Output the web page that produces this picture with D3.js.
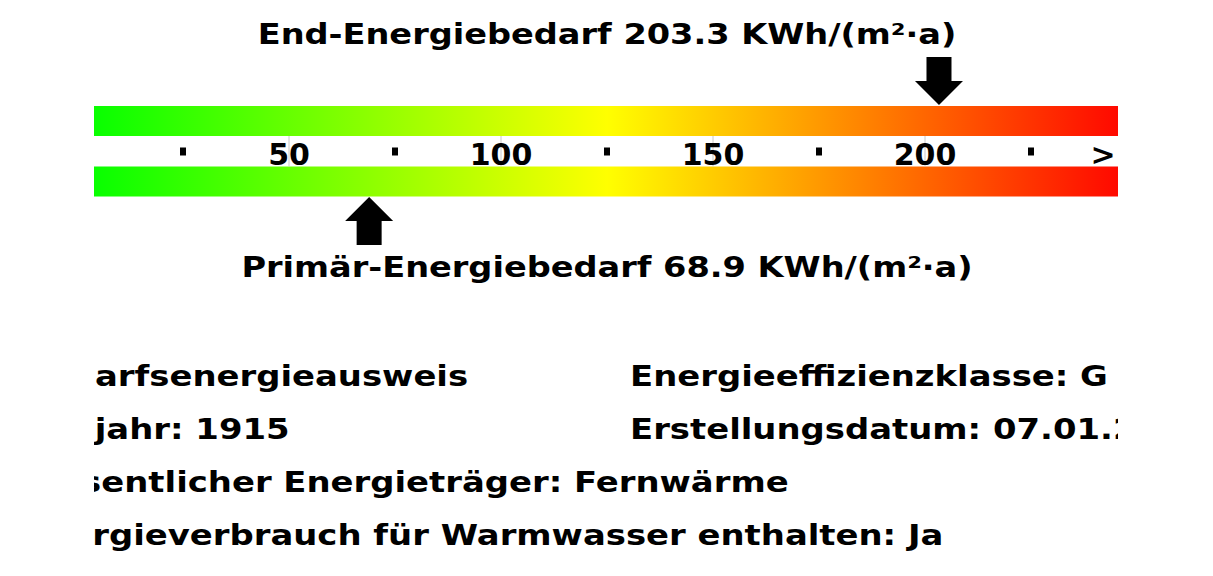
<!DOCTYPE html>
<html>
<head>
<meta charset="utf-8">
<script src="https://cdn.jsdelivr.net/npm/d3@7"></script>
<style>
  body { margin: 0; background: #fff; }
  text { font-family: "DejaVu Sans", sans-serif; font-weight: bold; fill: #000; }
</style>
</head>
<body>
<svg id="chart"></svg>
<script>
// values of the energy scale
const scaleDomain = [0, 250]
const tickValues = [50, 100, 150, 200]
const dotValues = [25, 75, 125, 175, 225]
const overflowLabel = { value: 242, text: '>' }
const endEnergy = 203.3
const primaryEnergy = 68.9
const unit = 'KWh/(m²·a)'

// info lines under the scale
const leftInfo = [
    'Bedarfsenergieausweis',
    'Baujahr: 1915',
    'Wesentlicher Energieträger: Fernwärme',
    'Energieverbrauch für Warmwasser enthalten: Ja'
]
const rightInfo = [
    'Energieeffizienzklasse: G',
    'Erstellungsdatum: 07.01.2020'
]

const WIDTH = 1213
const HEIGHT = 576
const VIEW = { left: 94, right: 1118 }
const BAR_H = 30
const TOP_BAR_Y = 106
const BOTTOM_BAR_Y = 166.5
// the labels are drawn a bit wider than the font
const TITLE_STRETCH = 1.2
const INFO_STRETCH = 1.21

const svg = d3.select('#chart')
    .attr('width', WIDTH)
    .attr('height', HEIGHT)

const x = d3.scaleLinear().domain(scaleDomain).range([77, 1137])

const defs = svg.append('defs')
const grad = defs.append('linearGradient')
    .attr('id', 'energyGrad')
    .attr('gradientUnits', 'userSpaceOnUse')
    .attr('x1', x(scaleDomain[0])).attr('x2', x(scaleDomain[1]))
    .attr('y1', 0).attr('y2', 0)
grad.selectAll('stop')
    .data([[0, '#00ff00'], [0.5, '#ffff00'], [1, '#ff0000']])
    .enter().append('stop')
    .attr('offset', d => d[0])
    .attr('stop-color', d => d[1])

defs.append('clipPath').attr('id', 'view')
    .append('rect')
    .attr('x', VIEW.left).attr('y', 0)
    .attr('width', VIEW.right - VIEW.left).attr('height', HEIGHT)

const g = svg.append('g').attr('clip-path', 'url(#view)')

// the two colour bars
g.selectAll('.bar')
    .data([TOP_BAR_Y, BOTTOM_BAR_Y])
    .enter().append('rect')
    .classed('bar', true)
    .attr('x', x(scaleDomain[0]))
    .attr('width', x(scaleDomain[1]) - x(scaleDomain[0]))
    .attr('y', d => d)
    .attr('height', BAR_H)
    .attr('fill', 'url(#energyGrad)')

// thin tick lines
g.selectAll('.tickline')
    .data(tickValues)
    .enter().append('line')
    .attr('x1', d => x(d)).attr('x2', d => x(d))
    .attr('y1', TOP_BAR_Y + BAR_H).attr('y2', BOTTOM_BAR_Y)
    .attr('stroke', '#c8c8c8')
    .attr('stroke-width', 1)

g.selectAll('.ticklabel')
    .data(tickValues)
    .enter().append('text')
    .attr('x', d => x(d))
    .attr('y', 165)
    .attr('text-anchor', 'middle')
    .style('font-size', '30px')
    .text(d => d)

g.selectAll('.dot')
    .data(dotValues)
    .enter().append('rect')
    .attr('x', d => x(d) - 3)
    .attr('y', 147.5)
    .attr('width', 6)
    .attr('height', 8)
    .attr('fill', '#000')

g.append('text')
    .attr('x', x(overflowLabel.value))
    .attr('y', 165)
    .attr('text-anchor', 'middle')
    .style('font-size', '30px')
    .text(overflowLabel.text)

// arrows
const arrow = (dir) => {
    // tip at 0,0, dir = 1 points down, -1 points up
    const s = -dir
    return `M0,0 L24,${24 * s} L12.5,${24 * s} L12.5,${48 * s} L-12.5,${48 * s} L-12.5,${24 * s} L-24,${24 * s} Z`
}

g.append('path')
    .attr('d', arrow(1))
    .attr('transform', `translate(${x(endEnergy)},${TOP_BAR_Y - 1})`)
    .attr('fill', '#000')

g.append('path')
    .attr('d', arrow(-1))
    .attr('transform', `translate(${x(primaryEnergy)},${BOTTOM_BAR_Y + BAR_H + 0.5})`)
    .attr('fill', '#000')

const mid = x(d3.mean(scaleDomain))

const wideText = (parent, tx, ty, str, anchor, k) =>
    parent.append('text')
        .attr('transform', `translate(${tx},${ty}) scale(${k},1)`)
        .attr('text-anchor', anchor)
        .style('font-size', '28px')
        .text(str)

wideText(svg, mid, 44, `End-Energiebedarf ${endEnergy} ${unit}`, 'middle', TITLE_STRETCH)
wideText(svg, mid, 277, `Primär-Energiebedarf ${primaryEnergy} ${unit}`, 'middle', TITLE_STRETCH)

// info lines
leftInfo.forEach((d, i) => wideText(g, 22, 386 + i * 53, d, 'start', INFO_STRETCH))
rightInfo.forEach((d, i) => wideText(g, 630, 386 + i * 53, d, 'start', INFO_STRETCH))
</script>
</body>
</html>
